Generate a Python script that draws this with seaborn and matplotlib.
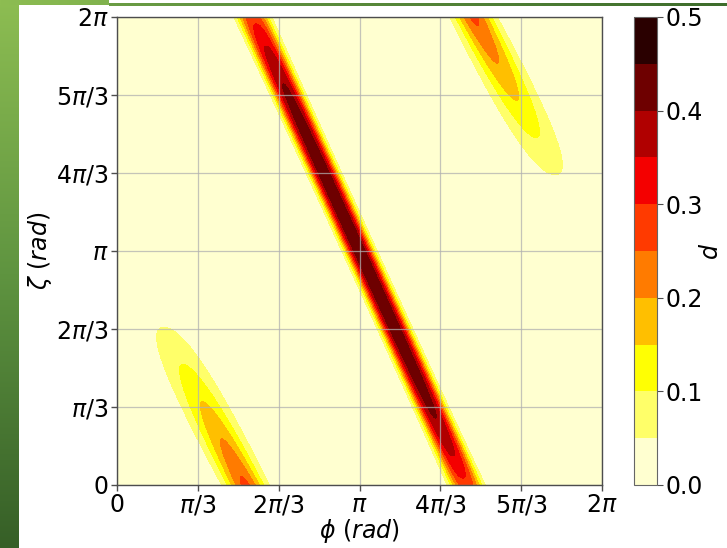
import numpy as np
import matplotlib
matplotlib.use("Agg")
import matplotlib.pyplot as plt
import seaborn as sns

# ---- tick positions / labels -------------------------------------------
tick_values = [0, np.pi / 3, 2 * np.pi / 3, np.pi, 4 * np.pi / 3, 5 * np.pi / 3, 2 * np.pi]
tick_labels = ["0", r"$\pi/3$", r"$2\pi/3$", r"$\pi$", r"$4\pi/3$", r"$5\pi/3$", r"$2\pi$"]
cbar_ticks = [0.0, 0.1, 0.2, 0.3, 0.4, 0.5]
levels = [0.0, 0.05, 0.10, 0.15, 0.20, 0.25, 0.30, 0.35, 0.40, 0.45, 0.50]

# ---- ridge description of d(phi, zeta) ----------------------------------
# main diagonal ridge: centre line phi at zeta = 0 and zeta = 2*pi
main_phi_ends = [1.44 * np.pi, 0.56 * np.pi]
main_peak = [0.28, 0.452]       # peak height at the zeta edges / in the middle
main_scale = [0.20, 0.17]       # profile half-scale at the edges / in the middle
main_decay = 0.75               # how fast edge values relax to the middle ones
main_shape = 2.6                # exponent of the transverse profile

# side ridge starting at zeta = 0 (mirrored copy starts at zeta = 2*pi)
side_phi0 = 1.665               # centre at zeta = 0
side_slope = -0.50              # d(phi)/d(zeta) of its centre line
side_peak = [0.262, -0.10]      # peak height at zeta = 0 and its change per rad
side_width = [0.17, 0.03]       # gaussian width at zeta = 0 and its change per rad

n = 500
phi = np.linspace(0, 2 * np.pi, n)
zeta = np.linspace(0, 2 * np.pi, n)
PHI, ZETA = np.meshgrid(phi, zeta)


def main_ridge(P, Z):
    centre = main_phi_ends[0] + (main_phi_ends[1] - main_phi_ends[0]) * Z / (2 * np.pi)
    t = np.minimum(Z, 2 * np.pi - Z)
    w = np.exp(-t / main_decay)
    amp = main_peak[1] - (main_peak[1] - main_peak[0]) * w
    s = main_scale[1] - (main_scale[1] - main_scale[0]) * w
    return amp * np.exp(-np.abs((P - centre) / s) ** main_shape)


def side_ridge(P, Z):
    centre = side_phi0 + side_slope * Z
    amp = np.clip(side_peak[0] + side_peak[1] * Z, 0, None)
    sig = side_width[0] + side_width[1] * Z
    return amp * np.exp(-0.5 * ((P - centre) / sig) ** 2)


D = main_ridge(PHI, ZETA) + side_ridge(PHI, ZETA) + side_ridge(2 * np.pi - PHI, 2 * np.pi - ZETA)

# ---- styling -------------------------------------------------------------
sns.set_style("ticks")
plt.rcParams["font.family"] = ["DejaVu Sans"]
plt.rcParams["mathtext.fontset"] = "dejavusans"
plt.rcParams["axes.axisbelow"] = "line"
plt.rcParams["text.color"] = "black"
plt.rcParams["axes.labelcolor"] = "black"
plt.rcParams["xtick.color"] = "black"
plt.rcParams["ytick.color"] = "black"

FS = 17

fig = plt.figure(figsize=(7.27, 5.48), dpi=100)
fig.patch.set_facecolor("white")

W, H = 727.0, 548.0

# green slide decoration: left gradient strip and top rule
strip = fig.add_axes([0, 0, 19 / W, 1])
grad = np.linspace(0, 1, 256).reshape(-1, 1)
green = matplotlib.colors.LinearSegmentedColormap.from_list("g", ["#8dbd52", "#5f9440", "#365f27"])
strip.imshow(grad, aspect="auto", cmap=green, extent=[0, 1, 1, 0])
strip.set_axis_off()

top = fig.add_axes([0, 1 - 5 / H, 109 / W, 5 / H])
top.imshow(np.linspace(0, 1, 64).reshape(1, -1), aspect="auto",
           cmap=matplotlib.colors.LinearSegmentedColormap.from_list("t", ["#8dbd52", "#80b24d"]))
top.set_axis_off()
rule = fig.add_axes([109 / W, 1 - 6 / H, 1 - 109 / W, 3 / H])
rule.imshow(np.linspace(0, 1, 64).reshape(1, -1), aspect="auto",
            cmap=matplotlib.colors.LinearSegmentedColormap.from_list("r", ["#6a9c44", "#3e6d2c"]))
rule.set_axis_off()

ax = fig.add_axes([117 / W, 63 / H, 485 / W, 468 / H])
cmap = sns.color_palette("hot_r", as_cmap=True)
cs = ax.contourf(PHI, ZETA, D, levels=levels, cmap=cmap)

ax.set_xlim(0, 2 * np.pi)
ax.set_ylim(0, 2 * np.pi)
ax.set_xticks(tick_values)
ax.set_xticklabels(tick_labels)
ax.set_yticks(tick_values)
ax.set_yticklabels(tick_labels)
ax.grid(True, color="#b0b0b0", linewidth=0.9, alpha=0.75)
ax.tick_params(labelsize=FS, length=4, width=1, color="0.3", pad=2)
for sp in ax.spines.values():
    sp.set_color("0.3")
    sp.set_linewidth(1.0)
ax.set_xlabel(r"$\phi\ (rad)$", fontsize=FS, labelpad=0)
ax.set_ylabel(r"$\zeta\ (rad)$", fontsize=FS, labelpad=2)

cax = fig.add_axes([634 / W, 63 / H, 23 / W, 468 / H])
cbar = fig.colorbar(cs, cax=cax, ticks=cbar_ticks)
cbar.ax.set_yticklabels([f"{v:.1f}" for v in cbar_ticks])
cbar.ax.tick_params(labelsize=FS, length=4, color="0.3", pad=2)
cbar.outline.set_edgecolor("0.4")
cbar.set_label(r"$d$", fontsize=FS, labelpad=-3)

fig.savefig("out.png", dpi=100)
